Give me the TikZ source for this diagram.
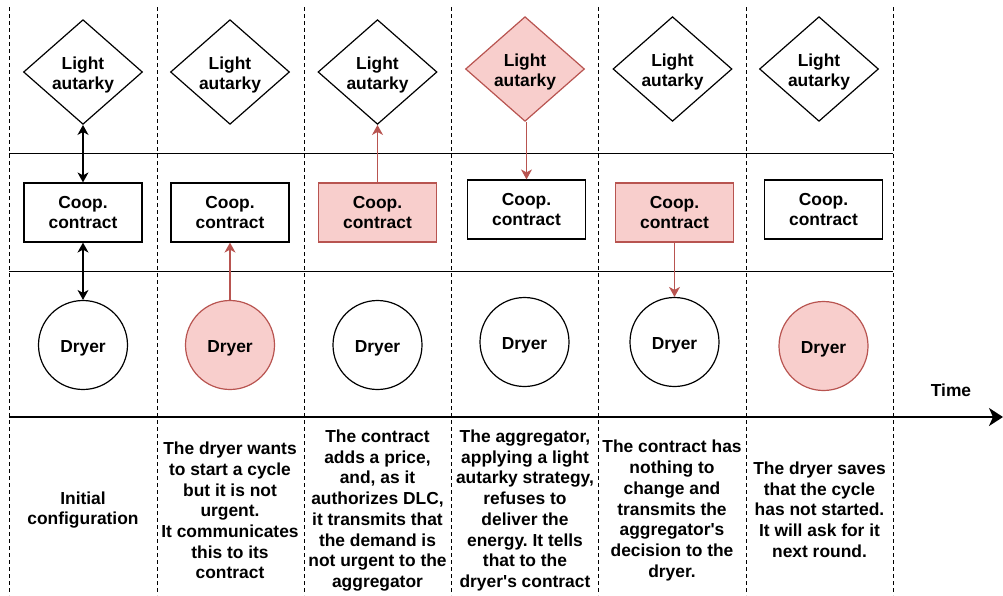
\documentclass[tikz,border=0pt]{standalone}
\usepackage{fontspec}
\setmainfont{Liberation Sans}
\usetikzlibrary{shapes.geometric,arrows.meta}
\definecolor{pinkfill}{HTML}{F8CECC}
\definecolor{reddraw}{HTML}{B85450}
\newcommand\mytop{\rule{0pt}{18.5pt}}
\frenchspacing
\begin{document}
\begin{tikzpicture}[x=1pt,y=-1pt,
  lbl/.style={font=\bfseries\fontsize{17.4}{20.7}\selectfont, align=center, inner sep=0pt},
  dia/.style={lbl, diamond, draw=black, line width=1.2pt, minimum width=119pt, minimum height=102pt},
  box/.style={lbl, rectangle, draw=black, line width=1.2pt, minimum width=118pt, minimum height=59pt},
  circ/.style={lbl, circle, draw=black, line width=1.2pt, minimum size=89pt},
  hot/.style={fill=pinkfill, draw=reddraw},
  grid/.style={line width=1pt, black},
  dashv/.style={line width=1pt, black, dash pattern=on 4pt off 3pt},
  dbl/.style={line width=1.2pt, black, {Stealth[length=10pt,width=11pt,inset=3pt]}-{Stealth[length=10pt,width=11pt,inset=3pt]}},
  redarr/.style={line width=1.2pt, reddraw, -{Stealth[length=10pt,width=11pt,inset=3pt]}},
  desc/.style={lbl}
]
\useasboundingbox (0,0) rectangle (1003,595);
% grid lines
\foreach \x in {9,157,304,451,598,746,893}
  \draw[dashv] (\x,7) -- (\x,595);
\draw[grid] (9,153) -- (893,153);
\draw[grid] (9,271) -- (893,271);
\coordinate (t0) at (9,417);
\coordinate (t1) at (1003,417);
\draw[line width=2pt, -{Stealth[length=14pt,width=18pt,inset=4pt]}] (t0) -- (t1);
\node[lbl] (time) at (951,390) {Time};

% diamonds
\node[dia] (d1) at (83,72) {\mytop Light\\autarky};
\node[dia] (d2) at (230,72) {\mytop Light\\autarky};
\node[dia] (d3) at (377.5,72) {\mytop Light\\autarky};
\node[dia,hot] (d4) at (525,69) {\mytop Light\\autarky};
\node[dia] (d5) at (672.5,69) {\mytop Light\\autarky};
\node[dia] (d6) at (819,69) {\mytop Light\\autarky};

% contracts
\node[box] (c1) at (83,212.5) {Coop.\\contract};
\node[box] (c2) at (230,212.5) {Coop.\\contract};
\node[box,hot] (c3) at (377.5,212.5) {Coop.\\contract};
\node[box] (c4) at (526.5,209.5) {Coop.\\contract};
\node[box,hot] (c5) at (674.5,212.5) {Coop.\\contract};
\node[box] (c6) at (823.5,209.5) {Coop.\\contract};

% dryers
\node[circ] (r1) at (83,345) {\mytop Dryer};
\node[circ,hot] (r2) at (230,345) {\mytop Dryer};
\node[circ] (r3) at (377.5,345) {\mytop Dryer};
\node[circ] (r4) at (524.5,342) {\mytop Dryer};
\node[circ] (r5) at (674.5,342) {\mytop Dryer};
\node[circ,hot] (r6) at (823.5,346) {\mytop Dryer};

% connectors
\draw[dbl] (d1.south) -- (c1.north);
\draw[dbl] (c1.south) -- (r1.north);
\draw[redarr] (r2.north) -- (c2.south);
\draw[redarr] (c3.north) -- (d3.south);
\draw[redarr] (d4.south -| c4.north) -- (c4.north);
\draw[redarr] (c5.south) -- (r5.north);

% descriptions
\node[desc] (t1) at (83,510) {Initial\\configuration};
\node[desc] (t2) at (230,510.5) {The dryer wants\\to start a cycle\\but it is not\\urgent.\\It communicates\\this to its\\contract};
\node[desc] (t3) at (377.5,510.5) {The contract\\adds a price,\\and, as it\\authorizes DLC,\\it transmits that\\the demand is\\not urgent to the\\aggregator};
\node[desc] (t4) at (525,510.5) {The aggregator,\\applying a light\\autarky strategy,\\refuses to\\deliver the\\energy. It tells\\that to the\\dryer\textquotesingle s contract};
\node[desc] (t5) at (672,510.5) {The contract has\\nothing to\\change and\\transmits the\\aggregator\textquotesingle s\\decision to the\\dryer.};
\node[desc] (t6) at (819.5,509.5) {The dryer saves\\that the cycle\\has not started.\\It will ask for it\\next round.};
\end{tikzpicture}
\end{document}
